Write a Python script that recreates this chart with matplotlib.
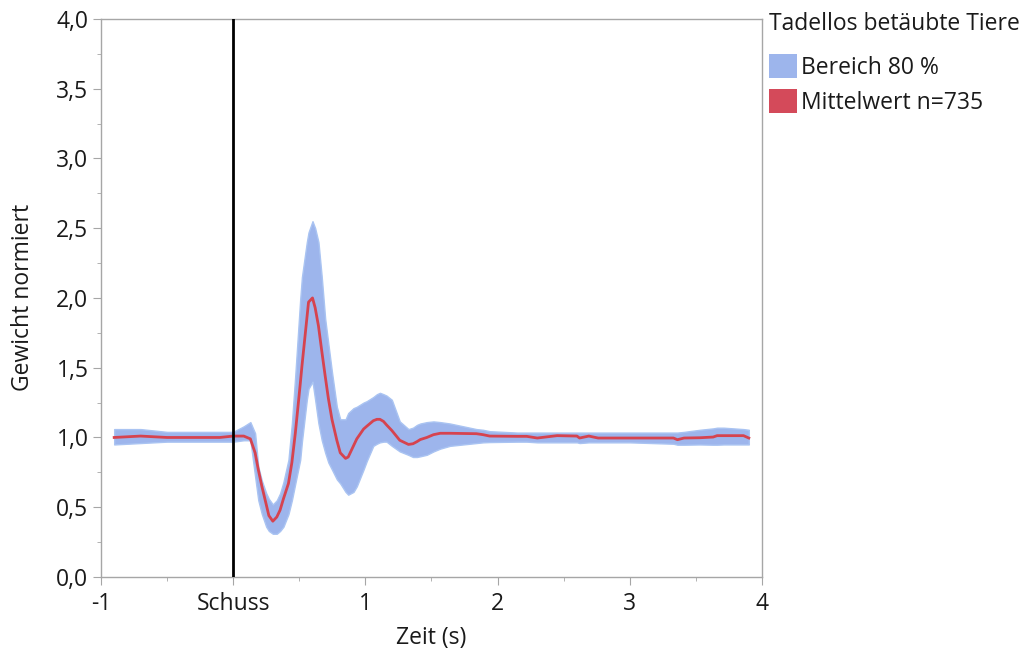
import numpy as np
import matplotlib
matplotlib.use("Agg")
from matplotlib import pyplot as plt
from matplotlib.ticker import FuncFormatter, MultipleLocator
from matplotlib.patches import Patch

plt.rcParams['font.family'] = ['Open Sans', 'DejaVu Sans']

# Zeit (s) relative to the shot
t = [-0.9, -0.7, -0.5, -0.3, -0.1, 0.0, 0.08, 0.13, 0.166, 0.19, 0.217, 0.25, 0.27,
     0.30, 0.33, 0.355, 0.38, 0.418, 0.444, 0.47, 0.507, 0.52, 0.557, 0.57, 0.60,
     0.62, 0.645, 0.67, 0.696, 0.72, 0.747, 0.784, 0.81, 0.85, 0.87, 0.91, 0.935,
     0.986, 1.01, 1.06, 1.087, 1.11, 1.137, 1.16, 1.20, 1.26, 1.326, 1.36, 1.39,
     1.415, 1.465, 1.515, 1.566, 1.64, 1.84, 1.89, 1.94, 2.15, 2.22, 2.30, 2.45,
     2.60, 2.62, 2.69, 2.76, 3.0, 3.33, 3.36, 3.41, 3.53, 3.63, 3.66, 3.71, 3.86, 3.90]

mean = [1.0, 1.01, 1.0, 1.0, 1.0, 1.01, 1.01, 0.99, 0.89, 0.77, 0.65, 0.52, 0.44,
        0.40, 0.43, 0.48, 0.56, 0.67, 0.82, 1.03, 1.38, 1.51, 1.85, 1.97, 2.0,
        1.93, 1.80, 1.62, 1.44, 1.28, 1.13, 0.98, 0.89, 0.85, 0.86, 0.94, 0.99,
        1.06, 1.08, 1.12, 1.13, 1.13, 1.115, 1.09, 1.05, 0.98, 0.95, 0.955, 0.97,
        0.985, 1.0, 1.02, 1.03, 1.03, 1.027, 1.02, 1.01, 1.008, 1.008, 0.996, 1.013,
        1.01, 0.996, 1.01, 0.996, 0.996, 0.996, 0.984, 0.996, 0.998, 1.003, 1.013, 1.013, 1.013, 0.996]

upper = [1.06, 1.06, 1.04, 1.04, 1.04, 1.04, 1.08, 1.11, 1.03, 0.79, 0.69, 0.60, 0.56,
         0.52, 0.55, 0.60, 0.68, 0.84, 1.10, 1.45, 1.99, 2.15, 2.40, 2.47, 2.55,
         2.50, 2.40, 2.15, 1.85, 1.67, 1.47, 1.22, 1.13, 1.13, 1.175, 1.21, 1.22,
         1.25, 1.26, 1.29, 1.31, 1.32, 1.31, 1.30, 1.27, 1.115, 1.06, 1.07, 1.09,
         1.10, 1.11, 1.115, 1.11, 1.10, 1.06, 1.055, 1.045, 1.035, 1.035, 1.035, 1.035,
         1.035, 1.035, 1.035, 1.035, 1.035, 1.035, 1.035, 1.04, 1.055, 1.065, 1.07, 1.07, 1.06, 1.055]

lower = [0.95, 0.96, 0.97, 0.97, 0.97, 0.97, 0.98, 0.98, 0.72, 0.55, 0.45, 0.36, 0.33,
         0.31, 0.31, 0.33, 0.36, 0.45, 0.55, 0.67, 0.84, 0.97, 1.27, 1.35, 1.40,
         1.27, 1.10, 0.98, 0.89, 0.82, 0.77, 0.70, 0.67, 0.61, 0.59, 0.61, 0.65,
         0.77, 0.83, 0.94, 0.955, 0.965, 0.97, 0.97, 0.94, 0.90, 0.875, 0.86, 0.86,
         0.865, 0.876, 0.90, 0.92, 0.94, 0.96, 0.965, 0.967, 0.97, 0.97, 0.965, 0.965,
         0.965, 0.96, 0.965, 0.965, 0.965, 0.955, 0.948, 0.948, 0.95, 0.948, 0.948, 0.95, 0.95, 0.95]

x_ticks = [-1, 0, 1, 2, 3, 4]
x_labels = ['-1', 'Schuss', '1', '2', '3', '4']

band_color = '#9db5ec'
line_color = '#d6434f'
axis_gray = '#a6a6a6'
text_color = '#1a1a1a'
fs = 16.5

fig = plt.figure(figsize=(10.27, 6.5), dpi=100)
ax = fig.add_axes([0.0983, 0.1123, 0.6437, 0.8587])

ax.fill_between(t, lower, upper, color=band_color, edgecolor='#aac4f2', linewidth=1.0, zorder=1)
ax.plot(t, mean, color=line_color, linewidth=2.0, zorder=2)
ax.axvline(0, color='black', linewidth=2.0, zorder=3)

ax.set_xlim(-1, 4)
ax.set_ylim(0, 4)
ax.set_xticks(x_ticks)
ax.set_xticklabels(x_labels)
ax.xaxis.set_minor_locator(MultipleLocator(0.5))
ax.yaxis.set_major_locator(MultipleLocator(0.5))
ax.yaxis.set_minor_locator(MultipleLocator(0.25))
ax.yaxis.set_major_formatter(FuncFormatter(lambda v, p: f'{v:.1f}'.replace('.', ',')))

for s in ax.spines.values():
    s.set_color(axis_gray)
    s.set_linewidth(1.0)
ax.tick_params(which='major', length=6, color=axis_gray, labelsize=fs, labelcolor=text_color, pad=3)
ax.tick_params(axis='x', which='major', pad=5)
ax.tick_params(which='minor', length=3, color=axis_gray)

ax.set_xlabel('Zeit (s)', fontsize=fs, color=text_color, labelpad=7)
ax.set_ylabel('Gewicht normiert', fontsize=fs, color=text_color, labelpad=15)

handles = [Patch(facecolor=band_color, edgecolor='none'),
           Patch(facecolor='#d44a5a', edgecolor='none')]
leg = ax.legend(handles, ['Bereich 80 %', 'Mittelwert n=735'],
                title='Tadellos betäubte Tiere', loc='upper left',
                bbox_to_anchor=(0.99, 1.037), frameon=False, fontsize=fs,
                title_fontsize=fs, handlelength=1.2, handleheight=1.25,
                handletextpad=0.2, labelspacing=0.4, borderaxespad=0.2)
leg._legend_box.align = 'left'
leg._legend_box.sep = 13
for txt in leg.get_texts():
    txt.set_color(text_color)
leg.get_title().set_color(text_color)

fig.savefig('out.png', dpi=100)
